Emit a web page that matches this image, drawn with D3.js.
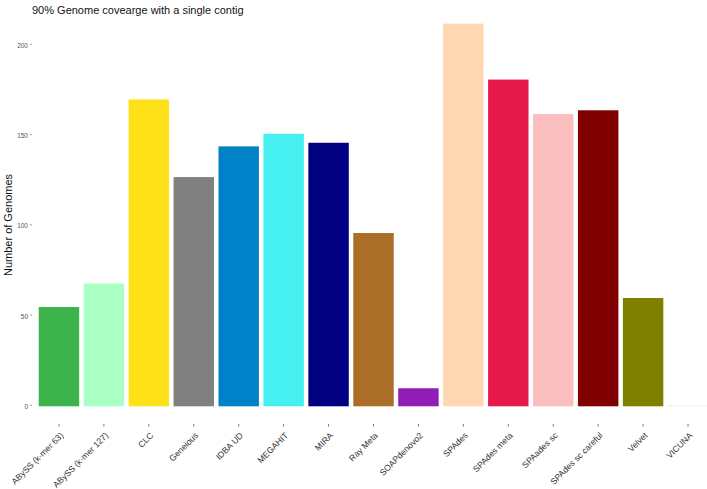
<!DOCTYPE html>
<html>
<head>
<meta charset="utf-8">
<script src="https://cdn.jsdelivr.net/npm/d3@7"></script>
<style>
  html, body { margin: 0; padding: 0; background: #fff; }
  svg { display: block; font-family: "Liberation Sans", Arial, Helvetica, sans-serif; }
</style>
</head>
<body>
<svg id="chart" width="707" height="489"></svg>
<script>
const categories = ["ABySS (k-mer 63)", "ABySS (k-mer 127)", "CLC", "Geneious", "IDBA UD", "MEGAHIT", "MIRA", "Ray Meta", "SOAPdenovo2", "SPAdes", "SPAdes meta", "SPAades sc", "SPAdes sc careful", "Velvet", "VICUNA"];
const values = [55, 68, 170, 127, 144, 151, 146, 96, 10, 212, 181, 162, 164, 60, 0.5];
const colors = ["#3CB44B", "#AAFFC3", "#FFE119", "#808080", "#0082C8", "#46F0F0", "#000080", "#AA6E28", "#911EB4", "#FFD8B1", "#E6194B", "#FABEBE", "#800000", "#808000", "#FBE6DC"];
const yTicks = [0, 50, 100, 150, 200];
const title = "90% Genome covearge with a single contig";
const yTitle = "Number of Genomes";

const svg = d3.select("#chart");

const x = d3.scaleBand().domain(categories).range([36.5, 710.5]).paddingInner(0.1).paddingOuter(0.05);
const y = d3.scaleLinear().domain([0, 220]).range([406.3, 9.2]);

// bars
svg.append("g").selectAll("rect").data(categories).join("rect")
  .attr("x", d => x(d))
  .attr("width", x.bandwidth())
  .attr("y", (d, i) => y(values[i]))
  .attr("height", (d, i) => y(0) - y(values[i]))
  .attr("fill", (d, i) => colors[i]);

// y axis
const yAxis = svg.append("g").attr("transform", "translate(30,0)")
  .call(d3.axisLeft(y).tickValues(yTicks).tickSize(-2).tickPadding(4).tickFormat(d3.format("d")));
yAxis.select(".domain").remove();
yAxis.selectAll(".tick line").attr("stroke", "#888").attr("stroke-width", 0.8).attr("transform", "translate(0,-1.5)");
yAxis.selectAll(".tick text").attr("fill", "#555").attr("font-size", 6.5).attr("x", -2).attr("dy", "0.32em");

// x axis
const xAxis = svg.append("g").attr("transform", "translate(0,424)")
  .call(d3.axisBottom(x).tickSize(2.5).tickPadding(3));
xAxis.select(".domain").remove();
xAxis.selectAll(".tick line").attr("stroke", "#555").attr("stroke-width", 0.8);
xAxis.selectAll(".tick text")
  .attr("fill", "#333")
  .attr("font-size", 8.6)
  .attr("text-anchor", "end")
  .attr("dy", null)
  .attr("y", 0)
  .attr("transform", "translate(5,12) rotate(-45)");

// title
svg.append("text").attr("x", 32).attr("y", 14)
  .attr("font-size", 11).attr("fill", "#111").text(title);

// y title
svg.append("text")
  .attr("transform", "translate(12,225) rotate(-90)")
  .attr("text-anchor", "middle")
  .attr("font-size", 11).attr("fill", "#111").text(yTitle);
</script>
</body>
</html>
